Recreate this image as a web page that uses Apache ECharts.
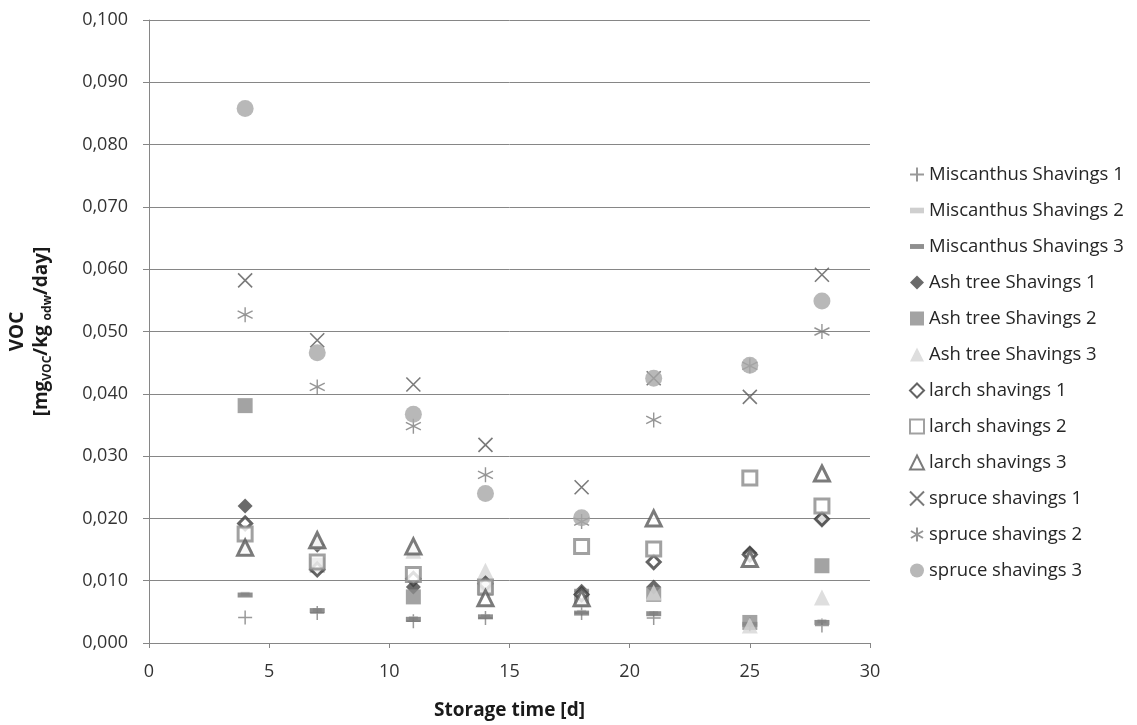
<!DOCTYPE html>
<html>
<head>
<meta charset="utf-8">
<script src="https://cdn.jsdelivr.net/npm/echarts@6/dist/echarts.min.js"></script>
<style>
html,body{margin:0;padding:0;background:#fff;}
#chart{width:1137px;height:725px;}
</style>
</head>
<body>
<div id="chart"></div>
<script>
// Storage days (x values)
var days = [4, 7, 11, 14, 18, 21, 25, 28];
var xTicks = [0, 5, 10, 15, 20, 25, 30];
var yTicks = ['0,000','0,010','0,020','0,030','0,040','0,050','0,060','0,070','0,080','0,090','0,100'];

var seriesNames = [
  'Miscanthus Shavings 1','Miscanthus Shavings 2','Miscanthus Shavings 3',
  'Ash tree Shavings 1','Ash tree Shavings 2','Ash tree Shavings 3',
  'larch shavings 1','larch shavings 2','larch shavings 3',
  'spruce shavings 1','spruce shavings 2','spruce shavings 3'
];

var miscanthus1 = [0.0041, 0.0048, 0.0035, 0.0040, 0.0048, 0.0040, 0.0030, 0.0028];
var miscanthus2 = [0.0079, 0.0053, 0.0040, 0.0043, 0.0050, 0.0048, 0.0030, 0.0035];
var miscanthus3 = [0.0077, 0.0052, 0.0038, 0.0042, 0.0048, 0.0047, 0.0030, 0.0033];
var ash1 = [0.0220, 0.0157, 0.0090, 0.0090, 0.0083, 0.0090, 0.0145, 0.0200];
var ash2 = [0.0381, 0.0125, 0.0074, 0.0088, 0.0075, 0.0078, 0.0033, 0.0124];
var ash3 = [0.0158, 0.0163, 0.0148, 0.0116, 0.0070, 0.0081, 0.0028, 0.0073];
var larch1 = [0.0192, 0.0118, 0.0103, 0.0095, 0.0078, 0.0130, 0.0142, 0.0199];
var larch2 = [0.0175, 0.0130, 0.0110, 0.0090, 0.0155, 0.0151, 0.0265, 0.0220];
var larch3 = [0.0153, 0.0165, 0.0155, 0.0072, 0.0072, 0.0200, 0.0135, 0.0272];
var spruce1 = [0.0582, 0.0486, 0.0415, 0.0318, 0.0250, 0.0425, 0.0395, 0.0591];
var spruce2 = [0.0527, 0.0411, 0.0348, 0.0270, 0.0195, 0.0358, 0.0445, 0.0500];
var spruce3 = [0.0858, 0.0466, 0.0367, 0.0240, 0.0201, 0.0425, 0.0446, 0.0549];

var allValues = [miscanthus1, miscanthus2, miscanthus3, ash1, ash2, ash3, larch1, larch2, larch3, spruce1, spruce2, spruce3];

var FONT = '"Open Sans", "DejaVu Sans", sans-serif';

var styles = [
  {symbol:'path://M0,5L10,5M5,0L5,10', size:14, item:{color:'rgba(0,0,0,0)', borderColor:'#7f7f7f', borderWidth:1.5}},
  {symbol:'path://M0,0H10V4H0Z', size:[9,4], item:{color:'#c3c3c3'}},
  {symbol:'path://M0,0H10V3.5H0Z', size:[15,5], item:{color:'#737373'}},
  {symbol:'diamond', size:15, item:{color:'#454545'}},
  {symbol:'rect', size:15, item:{color:'#8c8c8c'}},
  {symbol:'triangle', size:16, item:{color:'#d6d6d6'}},
  {symbol:'diamond', size:13, item:{color:'#ffffff', borderColor:'#3d3d3d', borderWidth:3}},
  {symbol:'rect', size:14, item:{color:'#ffffff', borderColor:'#8a8a8a', borderWidth:3}},
  {symbol:'triangle', size:15, item:{color:'#ffffff', borderColor:'#5a5a5a', borderWidth:3}},
  {symbol:'path://M0,0L10,10M10,0L0,10', size:14, item:{color:'rgba(0,0,0,0)', borderColor:'#595959', borderWidth:1.6}},
  {symbol:'path://M5,0L5,10M0.7,2.5L9.3,7.5M0.7,7.5L9.3,2.5', size:15, item:{color:'rgba(0,0,0,0)', borderColor:'#7a7a7a', borderWidth:1.4}},
  {symbol:'circle', size:17, item:{color:'#a6a6a6'}}
];

var series = seriesNames.map(function(name, i){
  var vals = allValues[i];
  return {
    name: name,
    type: 'scatter',
    symbol: styles[i].symbol,
    symbolSize: styles[i].size,
    itemStyle: styles[i].item,
    data: days.map(function(d, k){ return [d, vals[k]]; }),
    z: 2 + i
  };
});

var chart = echarts.init(document.getElementById('chart'), null, {renderer:'canvas'});
chart.setOption({
  animation: false,
  backgroundColor: '#ffffff',
  grid: {left: 147, right: 267, top: 20, bottom: 77, containLabel: false},
  legend: {
    orient: 'vertical',
    left: 904,
    top: 158,
    itemWidth: 14,
    itemHeight: 14,
    itemGap: 13,
    textStyle: {fontFamily: FONT, fontSize: 18.5, color: '#262626', lineHeight: 23},
    data: seriesNames
  },
  xAxis: {
    type: 'value',
    min: 0, max: 30, interval: 5,
    name: 'Storage time [d]',
    nameLocation: 'middle',
    nameGap: 58,
    nameTextStyle: {fontFamily: FONT, fontSize: 19, fontWeight: 'bold', color: '#1a1a1a'},
    axisLine: {show: true, lineStyle: {color: '#868686', width: 1}},
    axisTick: {show: true, length: 5, lineStyle: {color: '#868686'}},
    splitLine: {show: false},
    axisLabel: {fontFamily: FONT, fontSize: 18, color: '#333333', margin: 20,
      formatter: function(v){ return xTicks.indexOf(v) >= 0 ? String(v) : ''; }}
  },
  yAxis: {
    type: 'value',
    min: 0, max: 0.1, interval: 0.01,
    name: '{b|VOC}\n{b|[mg}{s|VOC}{b|/kg }{s|odw}{b|/day]}',
    nameLocation: 'middle',
    nameRotate: 90,
    nameGap: 98,
    nameTextStyle: {
      fontFamily: FONT, color: '#1a1a1a',
      rich: {
        b: {fontFamily: FONT, fontSize: 19, fontWeight: 'bold', color: '#1a1a1a', lineHeight: 24, verticalAlign: 'bottom'},
        s: {fontFamily: FONT, fontSize: 12, fontWeight: 'bold', color: '#1a1a1a', lineHeight: 24, verticalAlign: 'bottom', padding: [0,0,-3,0]}
      }
    },
    axisLine: {show: true, lineStyle: {color: '#868686', width: 1}},
    axisTick: {show: true, length: 6, lineStyle: {color: '#868686'}},
    splitLine: {show: true, lineStyle: {color: '#868686', width: 1}},
    axisLabel: {fontFamily: FONT, fontSize: 18, color: '#333333', margin: 21,
      formatter: function(v){ var idx = Math.round(v / 0.01); return yTicks[idx] || ''; }}
  },
  series: series
});
</script>
</body>
</html>
